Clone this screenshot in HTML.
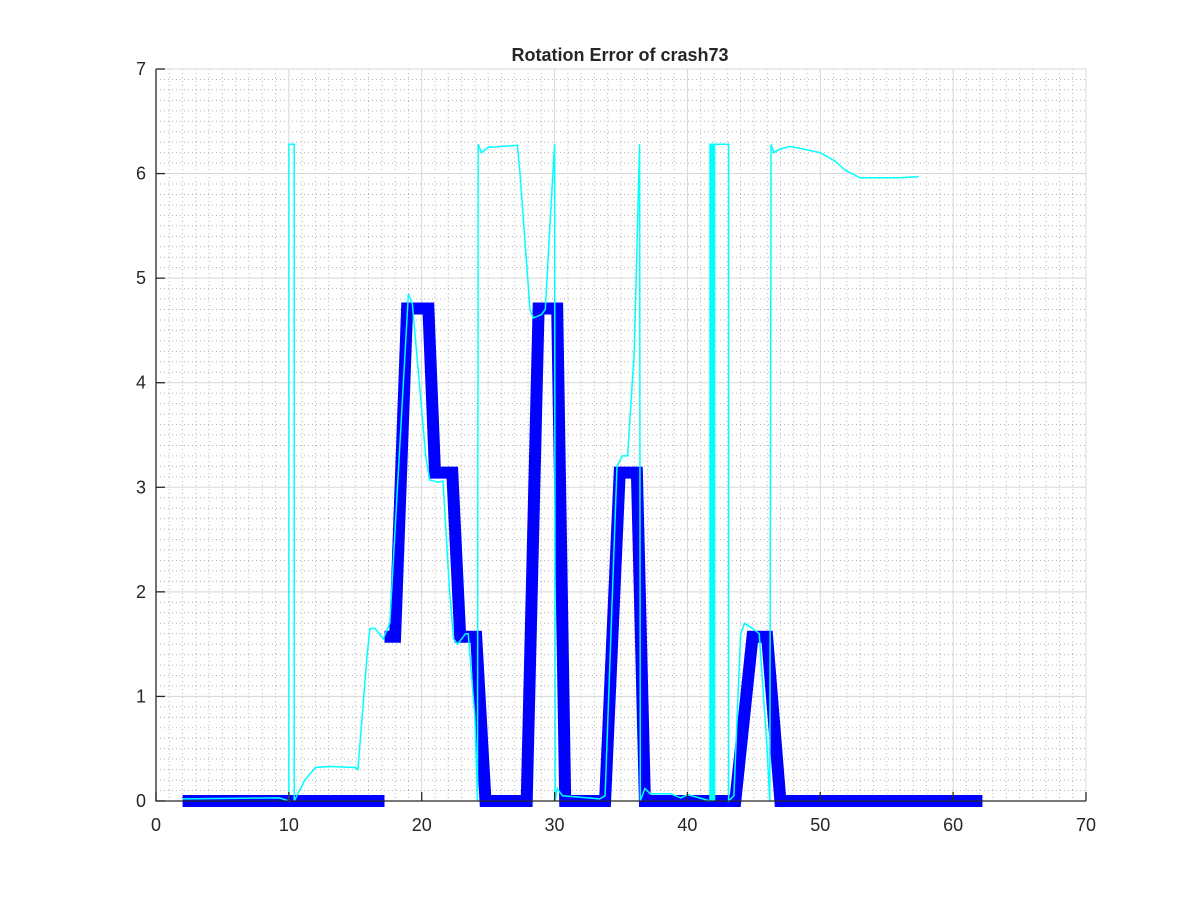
<!DOCTYPE html>
<html><head><meta charset="utf-8"><style>
body{margin:0;background:#fff;}
svg text{font-family:"Liberation Sans",Arial,sans-serif;fill:#262626;}
</style></head><body>
<svg id="chart" width="1200" height="900" viewBox="0 0 1200 900" xmlns="http://www.w3.org/2000/svg">
<rect width="1200" height="900" fill="#fff"/>
<g id="grid"></g>
<g id="series"></g>
<g id="axes"></g>
<text x="620" y="61" text-anchor="middle" font-size="18" font-weight="bold" fill="#000">Rotation Error of crash73</text>
</svg>
<script>
const xTicks=[0,10,20,30,40,50,60,70];
const yTicks=[0,1,2,3,4,5,6,7];
const blueX=[2,17.2,null,17.2,18.0,18.9,20.5,21.0,22.3,22.9,24.1,24.8,27.9,28.8,30.2,30.8,33.8,34.9,36.2,36.8,43.6,44.9,46.0,47.0,62.2];
const blueY=[0,0,null,1.57,1.57,4.71,4.71,3.14,3.14,1.57,1.57,0,0,4.71,4.71,0,0,3.14,3.14,0,0,1.57,1.57,0,0];
const cyanX=[2.0,9.3,10.0,10.0,10.4,10.4,10.6,11.2,12.0,13.1,15.0,15.2,15.9,16.1,16.5,17.1,17.6,19.0,19.3,20.3,20.6,21.2,21.6,22.1,22.4,22.7,23.3,23.5,24.0,24.2,24.25,24.5,25.0,27.2,27.4,28.15,28.4,29.0,29.3,29.65,30.0,30.05,30.2,30.6,33.4,33.8,34.7,35.1,35.5,36.0,36.4,36.45,36.8,37.2,38.7,39.5,40.0,40.9,41.7,41.7,43.1,43.1,43.5,44.0,44.3,44.9,45.4,46.0,46.2,46.3,46.5,46.9,47.7,48.5,50.0,51.1,51.9,53.0,56.0,57.4];
const cyanY=[0.02,0.03,0.0,6.28,6.28,0.0,0.05,0.2,0.32,0.33,0.32,0.3,1.4,1.65,1.65,1.55,1.7,4.85,4.75,3.3,3.07,3.05,3.06,2.0,1.55,1.5,1.6,1.6,0.8,0.0,6.28,6.2,6.25,6.27,6.0,4.7,4.62,4.65,4.7,5.5,6.28,0.0,0.12,0.05,0.02,0.05,3.2,3.3,3.3,4.3,6.28,0.0,0.12,0.07,0.07,0.03,0.06,0.03,0.0,6.28,6.28,0.0,0.05,1.6,1.7,1.65,1.6,0.5,0.0,6.28,6.2,6.23,6.26,6.24,6.2,6.12,6.03,5.96,5.96,5.97];
const barX=[41.7,42.1];
const barY=[6.28];
const X0=156,X1=1086,Y0=801,Y1=69;
const sx=v=>X0+(v-0)/(70-0)*(X1-X0);
const sy=v=>Y0-(v-0)/(7-0)*(Y0-Y1);
const NS="http://www.w3.org/2000/svg";
function mk(tag,attrs,parent){const e=document.createElementNS(NS,tag);for(const k in attrs)e.setAttribute(k,attrs[k]);parent.appendChild(e);return e;}
const grid=document.getElementById('grid'),ser=document.getElementById('series'),ax=document.getElementById('axes');
let d='';
for(let v=1;v<70;v++){if(v%10)d+=`M${sx(v)},${Y1}V${Y0}`;}
for(let i=1;i<70;i++){if(i%10)d+=`M${X0},${sy(i/10)}H${X1}`;}
const mg=mk('path',{d:d,stroke:'#b4b4b4','stroke-width':1,'stroke-dasharray':'1 3',fill:'none'},grid);


let dm='';
xTicks.forEach(v=>{dm+=`M${sx(v)},${Y1}V${Y0}`;});
yTicks.forEach(v=>{dm+=`M${X0},${sy(v)}H${X1}`;});
const gm=mk('path',{d:dm,stroke:'#d8d8d8','stroke-width':1,fill:'none'},grid);


function pathOf(xs,ys){let p='',pen=false;for(let i=0;i<xs.length;i++){if(xs[i]===null){pen=false;continue;}p+=(pen?'L':'M')+sx(xs[i]).toFixed(1)+','+sy(ys[i]).toFixed(1);pen=true;}return p;}
const bl=mk('path',{d:pathOf(blueX,blueY),stroke:'#0000ff','stroke-width':12,fill:'none','stroke-linejoin':'miter','stroke-miterlimit':2},ser);


const cy=mk('path',{d:pathOf(cyanX,cyanY),stroke:'#00ffff','stroke-width':1.5,fill:'none'},ser);


const br=mk('rect',{x:sx(barX[0]),y:sy(barY[0]),width:sx(barX[1])-sx(barX[0]),height:sy(0)-sy(barY[0]),fill:'#00ffff'},ser);


const axl=mk('path',{d:`M${X0},${Y1}V${Y0}H${X1}`,stroke:'#262626','stroke-width':1.3,fill:'none'},ax);


xTicks.forEach(v=>{
 const t=mk('path',{d:`M${sx(v)},${Y0}v-9`,stroke:'#262626','stroke-width':1.3},ax);
 
 
 const l=mk('text',{x:sx(v),y:Y0+30,'text-anchor':'middle','font-size':18},ax);l.textContent=v;
 
 
});
yTicks.forEach(v=>{
 const t=mk('path',{d:`M${X0},${sy(v)}h9`,stroke:'#262626','stroke-width':1.3},ax);
 
 
 const l=mk('text',{x:X0-10,y:sy(v)+6,'text-anchor':'end','font-size':18},ax);l.textContent=v;
 
 
});
</script>
</body></html>
